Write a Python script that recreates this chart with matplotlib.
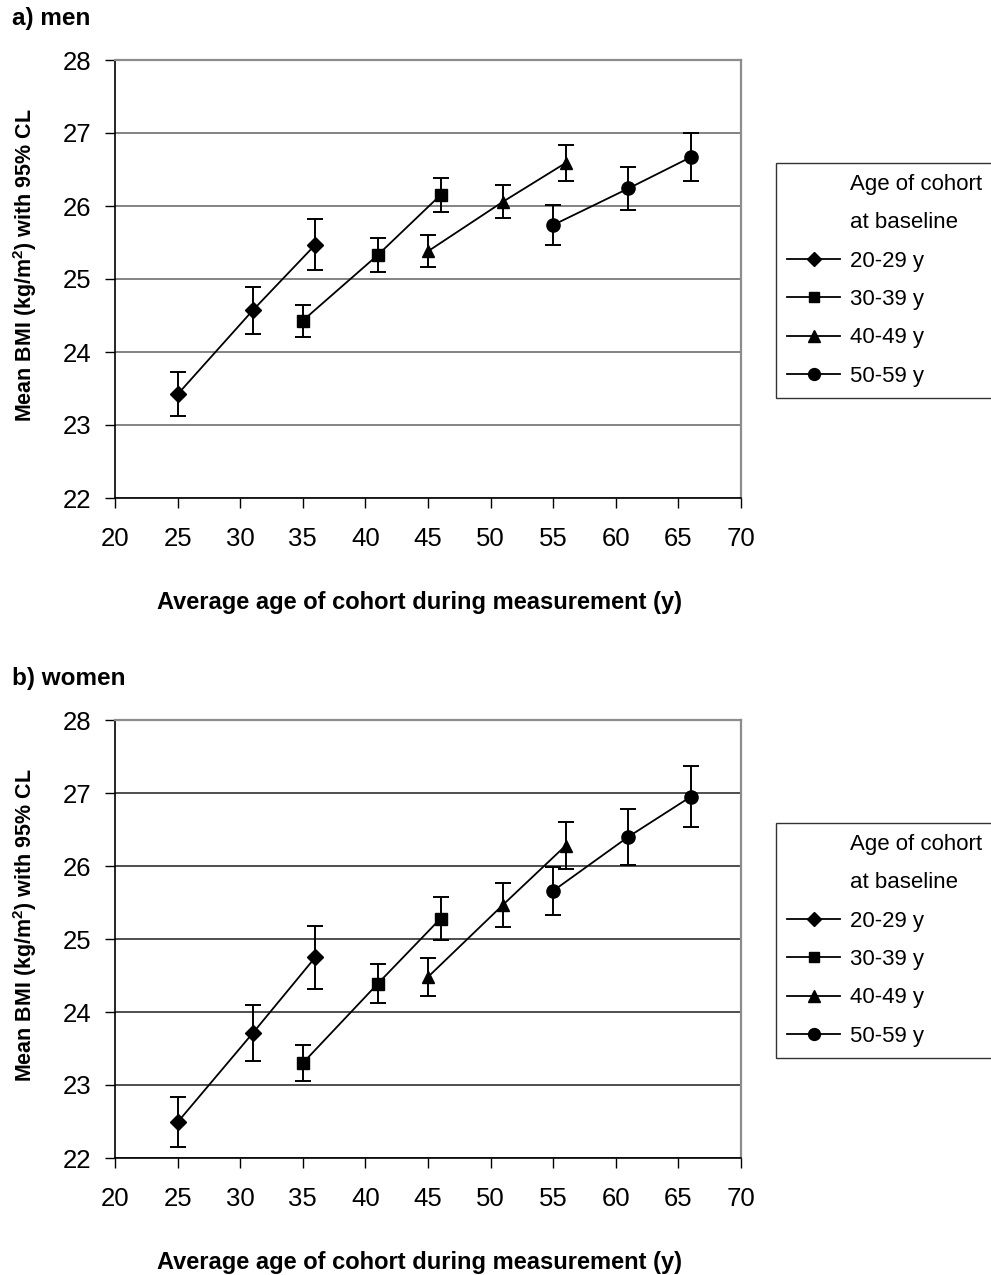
import matplotlib
matplotlib.use("Agg")
import matplotlib.pyplot as plt
from matplotlib.lines import Line2D

plt.rcParams["font.family"] = ["Liberation Sans", "DejaVu Sans"]
plt.rcParams["mathtext.fontset"] = "custom"
plt.rcParams["mathtext.rm"] = "Liberation Sans"
plt.rcParams["mathtext.bf"] = "Liberation Sans:bold"

GROUPS = ["20-29 y", "30-39 y", "40-49 y", "50-59 y"]
MARKERS = ["D", "s", "^", "o"]
MSIZES = [8, 8.5, 9, 9.5]

AGES = [[25, 31, 36], [35, 41, 46], [45, 51, 56], [55, 61, 66]]

MEN_BMI = [[23.42, 24.57, 25.47], [24.43, 25.33, 26.15],
           [25.38, 26.06, 26.59], [25.74, 26.24, 26.67]]
MEN_CI = [[0.30, 0.32, 0.35], [0.22, 0.23, 0.23],
          [0.22, 0.23, 0.25], [0.27, 0.30, 0.33]]

WOMEN_BMI = [[22.49, 23.71, 24.75], [23.30, 24.39, 25.28],
             [24.48, 25.47, 26.28], [25.66, 26.40, 26.95]]
WOMEN_CI = [[0.34, 0.38, 0.43], [0.25, 0.27, 0.30],
            [0.26, 0.30, 0.32], [0.33, 0.38, 0.42]]

W, H = 991, 1275
fig = plt.figure(figsize=(W / 100, H / 100), dpi=100)


def draw_panel(top_px, title, bmi, ci, grid_color):
    ax = fig.add_axes([115 / W, 1 - (top_px + 438) / H, 626 / W, 438 / H])
    for ages, vals, errs, mk, ms, lab in zip(AGES, bmi, ci, MARKERS, MSIZES, GROUPS):
        ax.errorbar(ages, vals, yerr=errs, color="black", lw=1.3, elinewidth=1.4,
                    capsize=5.5, capthick=1.4, marker=mk, markersize=ms,
                    markerfacecolor="black", markeredgecolor="black", label=lab)
    ax.set_xlim(20, 70)
    ax.set_ylim(22, 28)
    ax.set_xticks(range(20, 71, 5))
    ax.set_yticks(range(22, 29))
    ax.tick_params(axis="both", labelsize=18.5, length=7, width=1, direction="out")
    ax.tick_params(axis="y", pad=10)
    ax.tick_params(axis="x", pad=14)
    ax.yaxis.grid(True, color=grid_color, lw=1.3)
    ax.set_axisbelow(True)
    for s in ["top", "right"]:
        ax.spines[s].set_color("#8c8c8c")
        ax.spines[s].set_linewidth(1.6)
    for s in ["left", "bottom"]:
        ax.spines[s].set_color("black")
        ax.spines[s].set_linewidth(1.2)
    ax.set_ylabel(r"Mean BMI (kg/m$^\mathbf{2}$) with 95% CL", fontsize=15.5,
                  fontweight="bold")
    ax.yaxis.set_label_coords(-0.121, 0.532)
    ax.set_xlabel("Average age of cohort during measurement (y)", fontsize=17,
                  fontweight="bold")
    ax.xaxis.set_label_coords(0.487, -0.213)
    fig.text(12 / W, 1 - (top_px - 42) / H, title, fontsize=17.5, fontweight="bold",
             va="center", ha="left")

    handles = [Line2D([], [], linestyle="none", label="Age of cohort"),
               Line2D([], [], linestyle="none", label="at baseline")]
    handles += [Line2D([], [], color="black", lw=1.3, marker=m, markersize=s * 0.9,
                       label=g) for m, s, g in zip(MARKERS, MSIZES, GROUPS)]
    leg = fig.legend(handles=handles, loc="upper left",
                     bbox_to_anchor=(776 / W, 1 - (top_px + 103) / H, 240 / W, 0),
                     mode="expand", fontsize=16, frameon=True, fancybox=False,
                     edgecolor="black", handlelength=2.4, handletextpad=0.45,
                     labelspacing=0.78, borderpad=0.5, borderaxespad=0)
    leg.get_frame().set_linewidth(1.0)
    return ax


draw_panel(60, "a) men", MEN_BMI, MEN_CI, "#7a7a7a")
draw_panel(720, "b) women", WOMEN_BMI, WOMEN_CI, "#404040")

fig.savefig("out.png", dpi=100, facecolor="white")
